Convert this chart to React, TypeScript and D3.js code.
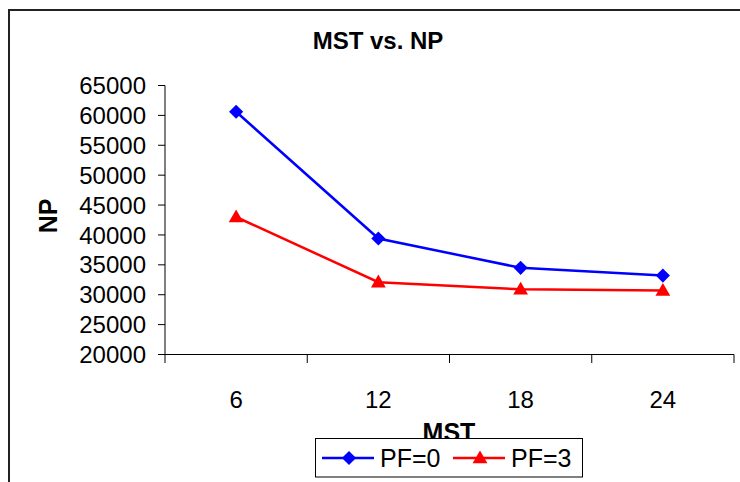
import React from 'react';
import * as d3 from 'd3';

// chart data
const categories = ['6', '12', '18', '24'];
const pf0Values = [60600, 39400, 34500, 33200];
const pf3Values = [43000, 32100, 30900, 30700];
const yTicks = [20000, 25000, 30000, 35000, 40000, 45000, 50000, 55000, 60000, 65000];
const seriesNames = ['PF=0', 'PF=3'];

const W = 740;
const H = 482;
const FONT = '"Liberation Sans", Arial, sans-serif';

const x = d3.scaleBand<string>().domain(categories).range([165, 734]).padding(0);
const y = d3.scaleLinear().domain([20000, 65000]).range([354.5, 85.5]);

const lineGen = d3.line<number>()
    .x((_, i) => (x(categories[i]) || 0) + x.bandwidth() / 2)
    .y(d => y(d));

const diamondPath = d3.symbol().type(d3.symbolSquare).size(100)() || '';
const trianglePath = d3.symbol().type(d3.symbolTriangle).size(95)() || '';

const Marker: React.FC<{ kind: 'diamond' | 'triangle'; cx: number; cy: number; color: string }> = ({ kind, cx, cy, color }) =>
    kind === 'diamond'
        ? <path d={diamondPath} transform={`translate(${cx},${cy}) rotate(45)`} fill={color} />
        : <path d={trianglePath} transform={`translate(${cx},${cy + 1})`} fill={color} />;

export default function App() {
    const series = [
        { name: seriesNames[0], values: pf0Values, color: '#0000FF', kind: 'diamond' as const },
        { name: seriesNames[1], values: pf3Values, color: '#FF0000', kind: 'triangle' as const },
    ];
    const boundaries = [...categories.map(c => x(c) || 0), (x(categories[categories.length - 1]) || 0) + x.bandwidth()];

    return (
        <svg width={W} height={H} style={{ position: 'absolute', left: 0, top: 0, background: '#fff' }} fontFamily={FONT}>
            {/* outer chart border */}
            <rect x={9} y={10} width={W + 20} height={H + 20} fill="#fff" stroke="#222" strokeWidth={2} />

            <text x={378} y={49} textAnchor="middle" fontSize={24} fontWeight="bold">MST vs. NP</text>

            {/* y axis */}
            <line x1={165} x2={165} y1={y(65000)} y2={y(20000)} stroke="#000" />
            {yTicks.map(t => (
                <g key={t}>
                    <line x1={158} x2={165} y1={y(t)} y2={y(t)} stroke="#000" />
                    <text x={146} y={y(t)} dy="0.36em" textAnchor="end" fontSize={24}>{t}</text>
                </g>
            ))}

            {/* x axis */}
            <line x1={165} x2={734} y1={354.5} y2={354.5} stroke="#000" />
            {boundaries.map((b, i) => (
                <line key={i} x1={b} x2={b} y1={354.5} y2={363} stroke="#000" />
            ))}
            {categories.map(c => (
                <text key={c} x={(x(c) || 0) + x.bandwidth() / 2} y={408} textAnchor="middle" fontSize={24}>{c}</text>
            ))}

            <text x={449} y={441} textAnchor="middle" fontSize={25} fontWeight="bold">MST</text>
            <text transform="translate(57,216) rotate(-90)" textAnchor="middle" fontSize={25} fontWeight="bold">NP</text>

            {/* series */}
            {series.map(s => (
                <g key={s.name}>
                    <path d={lineGen(s.values) || ''} fill="none" stroke={s.color} strokeWidth={2.5} />
                    {s.values.map((v, i) => (
                        <Marker key={i} kind={s.kind} cx={(x(categories[i]) || 0) + x.bandwidth() / 2} cy={y(v)} color={s.color} />
                    ))}
                </g>
            ))}

            {/* legend */}
            <rect x={315.5} y={438.5} width={267} height={38.5} fill="#fff" stroke="#000" />
            {series.map((s, i) => {
                const x0 = 322 + i * 131;
                return (
                    <g key={s.name}>
                        <line x1={x0} x2={x0 + 52} y1={458} y2={458} stroke={s.color} strokeWidth={2.5} />
                        <Marker kind={s.kind} cx={x0 + 27} cy={458} color={s.color} />
                        <text x={x0 + 58} y={458} dy="0.36em" fontSize={25}>{s.name}</text>
                    </g>
                );
            })}
        </svg>
    );
}
